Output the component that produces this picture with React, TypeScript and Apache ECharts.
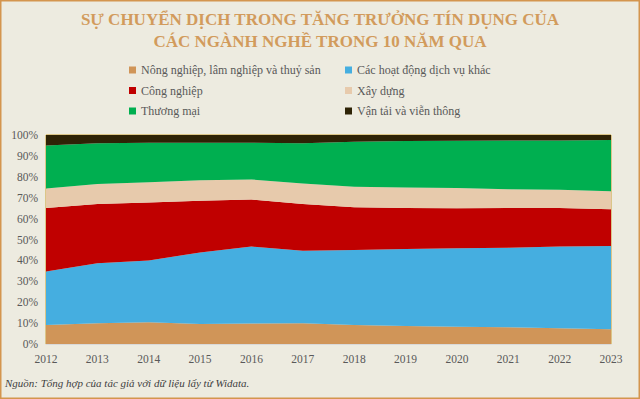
import React, { useEffect, useRef } from "react";
import * as echarts from "echarts";

const years = ["2012", "2013", "2014", "2015", "2016", "2017", "2018", "2019", "2020", "2021", "2022", "2023"];
const seriesNames = [
  "Nông nghiệp, lâm nghiệp và thuỷ sản",
  "Các hoạt động dịch vụ khác",
  "Công nghiệp",
  "Xây dựng",
  "Thương mại",
  "Vận tải và viễn thông",
];
const nongNghiep = [9.1, 9.9, 10.4, 9.6, 9.8, 9.9, 9.1, 8.6, 8.3, 8.0, 7.5, 7.0];
const dichVuKhac = [25.6, 28.7, 29.6, 34.2, 36.8, 34.7, 35.9, 36.8, 37.5, 38.1, 39.1, 39.9];
const congNghiep = [30.4, 28.4, 27.7, 24.8, 22.5, 22.4, 20.4, 19.7, 19.2, 19.0, 18.5, 17.6];
const xayDung = [9.3, 9.6, 9.7, 9.8, 9.6, 9.8, 9.8, 9.8, 9.6, 9.0, 8.7, 8.6];
const thuongMai = [20.6, 19.4, 18.9, 17.9, 17.6, 19.2, 21.6, 22.2, 22.7, 23.3, 23.6, 24.5];
const vanTai = [5.0, 4.0, 3.7, 3.7, 3.7, 4.0, 3.2, 2.9, 2.7, 2.6, 2.6, 2.4];
const seriesValues = [nongNghiep, dichVuKhac, congNghiep, xayDung, thuongMai, vanTai];
const colors = ["#D09558", "#45AEE0", "#C00000", "#E7CAAC", "#00AF50", "#2E2306"];
const yTicks = [0, 10, 20, 30, 40, 50, 60, 70, 80, 90, 100];

const serif = "'Liberation Serif', 'Times New Roman', serif";

export default function App() {
  const ref = useRef<HTMLDivElement>(null);
  useEffect(() => {
    if (!ref.current) return;
    const chart = echarts.init(ref.current, null, { renderer: "svg" });
    chart.setOption({
      animation: false,
      backgroundColor: "#EDEBE0",
      color: colors,
      title: {
        text: "SỰ CHUYỂN DỊCH TRONG TĂNG TRƯỞNG TÍN DỤNG CỦA\nCÁC NGÀNH NGHỀ TRONG 10 NĂM QUA",
        left: "center",
        top: 8,
        padding: 0,
        textStyle: {
          fontFamily: serif,
          fontWeight: "bold",
          fontSize: 17,
          lineHeight: 22,
          color: "#D29B5C",
          align: "center",
        },
      },
      legend: [
        {
          orient: "vertical",
          left: 129,
          top: 63,
          padding: 0,
          itemWidth: 7,
          itemHeight: 7,
          itemGap: 6.5,
          icon: "rect",
          data: [seriesNames[0], seriesNames[2], seriesNames[4]],
          textStyle: { fontFamily: serif, fontSize: 12, color: "#595959", lineHeight: 14 },
        },
        {
          orient: "vertical",
          left: 345,
          top: 63,
          padding: 0,
          itemWidth: 7,
          itemHeight: 7,
          itemGap: 6.5,
          icon: "rect",
          data: [seriesNames[1], seriesNames[3], seriesNames[5]],
          textStyle: { fontFamily: serif, fontSize: 12, color: "#595959", lineHeight: 14 },
        },
      ],
      grid: {
        left: 46,
        right: 29,
        top: 135,
        bottom: 55,
        show: true,
        borderColor: "#C9A030",
        borderWidth: 1,
        backgroundColor: "transparent",
      },
      xAxis: {
        type: "category",
        data: years,
        boundaryGap: false,
        axisLine: { show: true, lineStyle: { color: "#D9D9D9" } },
        axisTick: { show: false },
        axisLabel: { fontFamily: serif, fontSize: 11.5, color: "#595959", margin: 9 },
        splitLine: { show: false },
      },
      yAxis: {
        type: "value",
        min: yTicks[0],
        max: yTicks[yTicks.length - 1],
        interval: 10,
        axisLine: { show: false },
        axisTick: { show: false },
        splitLine: { show: false },
        axisLabel: { fontFamily: serif, fontSize: 11.5, color: "#595959", formatter: "{value}%", margin: 8 },
      },
      series: seriesNames.map((name, i) => ({
        name,
        type: "line",
        stack: "total",
        data: seriesValues[i],
        showSymbol: false,
        symbol: "none",
        lineStyle: { width: 0 },
        areaStyle: { color: colors[i], opacity: 1 },
        itemStyle: { color: colors[i] },
      })),
      graphic: [
        {
          type: "text",
          left: 5,
          top: 377,
          style: {
            text: "Nguồn: Tổng hợp của tác giả với dữ liệu lấy từ Widata.",
            fontFamily: serif,
            fontStyle: "italic",
            fontSize: 11,
            fill: "#404040",
          },
        },
        {
          type: "rect",
          shape: { x: 0.75, y: 0.75, width: 638.5, height: 397.5 },
          style: { fill: "none", stroke: "#D4954E", lineWidth: 1.5 },
          silent: true,
        },
      ],
    });
    return () => chart.dispose();
  }, []);
  return (
    <div
      ref={ref}
      style={{ position: "fixed", left: 0, top: 0, width: 640, height: 399 }}
    />
  );
}
